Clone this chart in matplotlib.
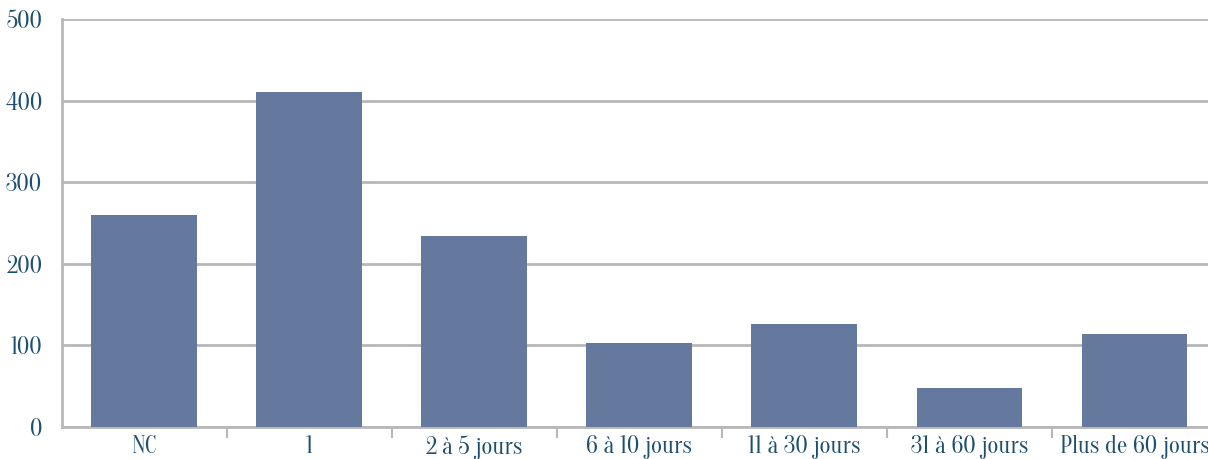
import matplotlib
matplotlib.use('Agg')
import matplotlib.pyplot as plt

# === prepare data ===
categories = ['NC', '1', '2 à 5 jours', '6 à 10 jours', '11 à 30 jours',
              '31 à 60 jours', 'Plus de 60 jours']
values = [260, 410, 234, 103, 126, 48, 114]
yticks = [0, 100, 200, 300, 400, 500]

bar_color = '#65799f'
grid_color = '#b8b8b8'
text_color = '#1d4f6e'

plt.rcParams['font.family'] = ['Oranienbaum', 'DejaVu Serif']

# === plot data ===
fig = plt.figure(figsize=(12.08, 4.59), dpi=100)
ax = fig.add_axes([61.5 / 1208, 1 - 427 / 459, (1217 - 61.5) / 1208, (427 - 19) / 459])

x = range(len(categories))
ax.bar(x, values, width=0.64, color=bar_color, zorder=3)

ax.set_xlim(-0.5, len(categories) - 0.5)
ax.set_ylim(0, 500)
ax.set_yticks(yticks)
ax.yaxis.grid(True, color=grid_color, linewidth=2, zorder=0)

ax.set_xticks(list(x))
ax.set_xticklabels(categories)
ax.set_xticks([i + 0.5 for i in x], minor=True)
ax.tick_params(axis='x', which='major', length=0, pad=6, labelsize=17, labelcolor=text_color)
ax.tick_params(axis='x', which='minor', length=8, width=1.5, color=grid_color)
ax.tick_params(axis='y', length=0, pad=14, labelsize=17, labelcolor=text_color)

for side in ['top', 'right']:
    ax.spines[side].set_visible(False)
for side in ['left', 'bottom']:
    ax.spines[side].set_color(grid_color)
    ax.spines[side].set_linewidth(2)

plt.savefig('out.png', dpi=100)
